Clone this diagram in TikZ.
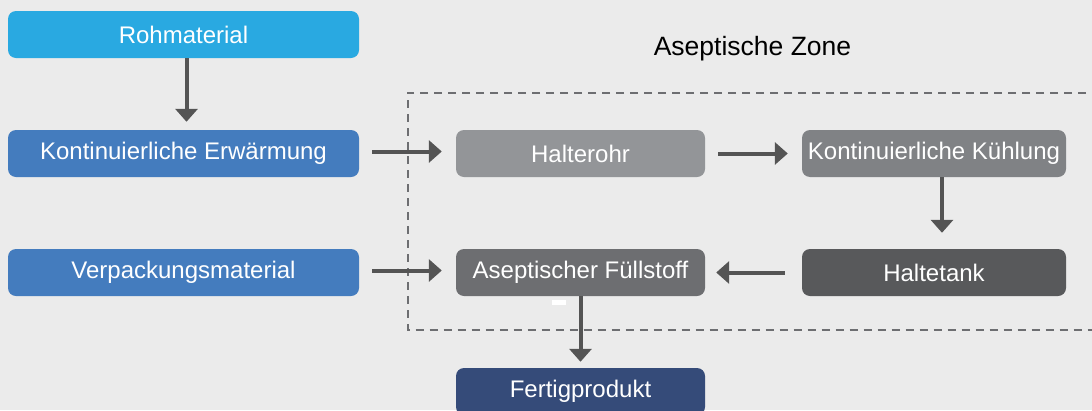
\documentclass[tikz,border=0pt]{standalone}
\usepackage{fontspec}
\setmainfont{Liberation Sans}
\usetikzlibrary{arrows.meta}
\definecolor{bg}{HTML}{EBEBEB}
\definecolor{cRoh}{HTML}{29A9E1}
\definecolor{cErw}{HTML}{447CBE}
\definecolor{cHalt}{HTML}{939598}
\definecolor{cKuhl}{HTML}{808285}
\definecolor{cTank}{HTML}{58595B}
\definecolor{cFull}{HTML}{6D6E71}
\definecolor{cFert}{HTML}{354B79}
\definecolor{cArr}{HTML}{545454}
\definecolor{cDash}{HTML}{6D6E71}
\tikzset{
  procbox/.style={rectangle, rounded corners=8pt, draw=none, text=white,
    minimum height=47pt, inner sep=0pt, font=\fontsize{24}{28}\selectfont},
  flowarrow/.style={draw=cArr, line width=4pt,
    -{Triangle[width=22pt,length=13pt]}},
}
\begin{document}
\begin{tikzpicture}[x=1pt,y=-1pt]
\useasboundingbox (0,0) rectangle (1092,410);
\clip (0,0) rectangle (1092,410);
\fill[bg] (0,0) rectangle (1092,410);
% aseptic zone
\draw[cDash, line width=2pt, dash pattern=on 8pt off 6pt]
  (1100,92.5) -- (407.5,92.5) -- (407.5,330) -- (1100,330);
\node[font=\fontsize{26.5}{31}\selectfont, text=black] (zone) at (752.5,48.5) {Aseptische Zone};
% boxes
\node[procbox, fill=cRoh, minimum width=351pt] (roh) at (183.5,34.5) {Rohmaterial};
\node[procbox, fill=cErw, minimum width=351pt] (erw) at (183.5,153.5) {Kontinuierliche Erwärmung};
\node[procbox, fill=cErw, minimum width=351pt] (verp) at (183.5,272.5) {Verpackungsmaterial};
\node[procbox, fill=cHalt, minimum width=249pt] (halt) at (580.5,153.5) {Halterohr};
\node[procbox, fill=cKuhl, minimum width=264pt] (kuhl) at (934,153.5) {Kontinuierliche Kühlung};
\node[procbox, fill=cTank, minimum width=264pt] (tank) at (934,272.5) {Haltetank};
\node[procbox, fill=cFull, minimum width=249pt] (full) at (580.5,272.5) {Aseptischer Füllstoff};
\node[procbox, fill=cFert, minimum width=249pt] (fert) at (580.5,391.5) {Fertigprodukt};
% small white mark
\fill[white] (552,300) rectangle (566,305);
% arrows
\draw[flowarrow, shorten >=8pt] ([xshift=3pt]roh.south) -- ([xshift=3pt]erw.north);
\draw[flowarrow, shorten <=13pt, shorten >=14pt] ([yshift=2pt]erw.east) -- ([yshift=2pt]halt.west);
\draw[flowarrow, shorten <=13pt, shorten >=14pt] ([yshift=2pt]verp.east) -- ([yshift=2pt]full.west);
\draw[flowarrow, shorten <=13pt, shorten >=14pt] (halt.east) -- (kuhl.west);
\draw[flowarrow, shorten >=16pt] ([xshift=8pt]kuhl.south) -- ([xshift=8pt]tank.north);
\draw[flowarrow, shorten <=17pt, shorten >=11pt] (tank.west) -- (full.east);
\draw[flowarrow, shorten >=6pt] (full.south) -- (fert.north);
\end{tikzpicture}
\end{document}
